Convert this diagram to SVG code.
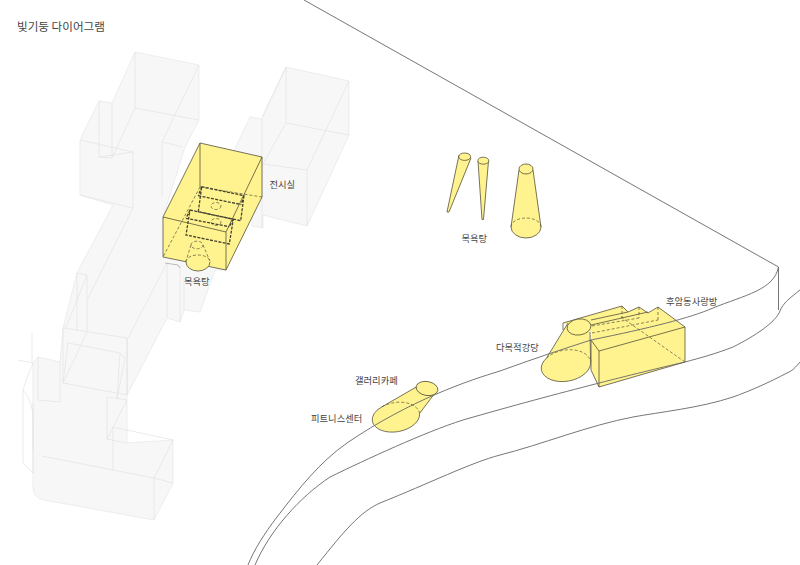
<svg xmlns="http://www.w3.org/2000/svg" width="800" height="565" viewBox="0 0 800 565">
<style>
text{font-family:"Noto Sans CJK KR","Noto Sans",sans-serif;font-size:9.3px;fill:#444}
.g{fill:#f7f7f7;stroke:#e6e6e6;stroke-width:.7;stroke-linejoin:round}
.gl{fill:none;stroke:#e2e2e2;stroke-width:.7}
.y{fill:#fff38f;stroke:none}
.s{fill:none;stroke:#55513a;stroke-width:.8;stroke-linejoin:round}
.d{fill:none;stroke:#55513a;stroke-width:.7;stroke-dasharray:3 2}
.t{fill:none;stroke:#44422f;stroke-width:1.3;stroke-dasharray:3 1.3}
.r{fill:none;stroke:#666;stroke-width:.9}
</style>
<rect width="800" height="565" fill="#fff"/>
<g id="existing-building">
<path class="g" d="M286 67L349 81V135L307 226L263 215V228L252 226V215L226 200L233 153L250 117L262 119Z"/>
<path class="gl" d="M286 67V123L349 135M286 67L262 117M349 81L307 170V226M263 164L307 170M286 123L263 164M262 119V228"/>
<path class="g" d="M135 52L199 65V120L185 147L163 217L226 270L215 270L200 312L184 310L180 322L167 318L127 395V338L63 328L77 273L113 205L80 195V140L99 101L112 103Z"/>
<path class="gl" d="M135 52V108L199 120M199 65L162 142V197M162 142L183 147M80 140L133 152V208M80 195L133 208M99 101V157L112 158V103M99 157L133 152M112 158L135 108M133 208L87 300M167 263L128 338M167 263V318M180 265V322M184 277V310M77 273L87 275V332M77 273V330M87 275L63 335"/>
<path class="g" d="M38 357L60 362L63 328L127 338V443L173 440V483L154 520L44 500Q33 498 33 487V363Z"/>
<path class="gl" d="M63 383L127 395M87 332L63 383M68 343L120 353L117 399M68 343L63 383M120 353L125 358L117 399M38 357V400L60 402V362M107 397L127 400L107 439V397M107 439L127 443M113 427L173 440L154 478V520M113 427V470L154 478L173 483M42 456L113 470M32 333V362M18 360L33 363L27 378L23 390V463L33 473V403M23 390Q33 400 33 420V450M127 338V395M63 328V383"/>
</g>
<g id="exhibition-hall">
<path class="y" d="M200 143L262 157V197L226 270L163 257V217Z"/>
<path class="s" d="M163 217L200 143L262 157V197L226 270L163 257V217L226 232L262 157M226 232V270M200 143V187"/>
<path class="d" d="M200 187L262 197M200 187L163 257"/>
<path class="t" d="M201.700 186.700L244 195.700L240.700 220.700L198.300 211.700ZM198.300 195.700L241 204.500M244 195.700L241 204.500M201.700 186.700L198.300 195.700M190 210L233.300 219.300L229.300 244L186 235ZM186 218.300L229.300 226.700M190 210L186 218.300M233.300 219.300L229.300 226.700"/>
<ellipse class="d" cx="216" cy="206" rx="5" ry="3.500"/>
<ellipse class="d" cx="216" cy="222" rx="5" ry="3.500"/>
</g>
<g id="bath-cone-1">
<ellipse class="y" cx="198" cy="262" rx="12" ry="9"/>
<path class="d" d="M191 245L186 261M203 245L210 261M186 262A12 7 0 0 1 210 262"/>
<ellipse class="d" cx="197" cy="245" rx="6" ry="3.800"/>
<path class="s" d="M186 262A12 9 0 0 0 210 262"/>
</g>
<path d="M165 263L178 265L180 268" fill="none" stroke="#aaa" stroke-width=".8"/>
<g id="bath-cones">
<path class="y" d="M459 155L447 212L449 212L471 158Z"/>
<path class="s" d="M459 155L447 212L449 212L471 158"/>
<ellipse class="y" cx="464.700" cy="156.700" rx="6" ry="3.700"/><ellipse class="s" cx="464.700" cy="156.700" rx="6" ry="3.700"/>
<path class="y" d="M478 161L482 219.500L483.500 219.500L488.500 161Z"/>
<path class="s" d="M478 161L482 219.500L483.500 219.500L488.500 161"/>
<ellipse class="y" cx="483.300" cy="160.700" rx="5.500" ry="3.500"/><ellipse class="s" cx="483.300" cy="160.700" rx="5.500" ry="3.500"/>
<path class="y" d="M519 170L511 227A15 11 0 0 0 541 227L533 170Z"/>
<path class="s" d="M519 170L511 227A15 11 0 0 0 541 227L533 170"/>
<path class="d" d="M511 227A15 9 0 0 1 541 227"/>
<ellipse class="y" cx="526" cy="169" rx="7" ry="5"/><ellipse class="s" cx="526" cy="169" rx="7" ry="5"/>
</g>
<g id="community-room">
<path class="y" d="M563 323L622 306L628 312L639 307L648 313L658 307L685 327V362L599 387L591 370V340L592 332Z"/>
<path class="s" d="M563 323V330M563 323L622 306L628 312L639 307L648 313L658 307L685 327V362L599 387V351L685 327M591 340L599 351M591 340V370L599 387M591 320L628 312M591 325L648 312"/>
<path class="d" d="M622 306V318M639 307V318M658 307V320M592 333L658 320M621 317L685 362M592 326L639 318"/>
</g>
<g id="auditorium">
<path class="y" d="M568 323L546.600 358A25 16 -10 0 0 541.400 370.300A25 16 -10 0 0 590.600 361.700L590 332Z"/>
<path class="s" d="M568 323L546.600 358A25 16 -10 0 0 541.400 370.300A25 16 -10 0 0 590.600 361.700L590 332"/>
<path class="d" d="M546.600 358A25 16 -10 0 1 590.600 361.700"/>
<ellipse class="y" cx="579" cy="327" rx="12" ry="8" transform="rotate(-8 579 327)"/>
<ellipse class="s" cx="579" cy="327" rx="12" ry="8" transform="rotate(-8 579 327)"/>
</g>
<g id="gallery-cafe">
<path class="y" d="M418 386L382 406.800A24 15 -10 0 0 372.400 421.700A24 15 -10 0 0 419.600 413.300L435 393Z"/>
<path class="s" d="M418 386L382 406.800A24 15 -10 0 0 372.400 421.700A24 15 -10 0 0 419.600 413.300L435 393"/>
<path class="d" d="M382 406.800A24 15 -10 0 1 419.600 413.300"/>
<ellipse class="y" cx="427" cy="388.500" rx="11" ry="7" transform="rotate(10 427 388.500)"/>
<ellipse class="s" cx="427" cy="388.500" rx="11" ry="7" transform="rotate(10 427 388.500)"/>
</g>
<g id="connectors">
<path class="r" d="M304 0L778.500 267V310"/>
<path class="r" d="M778.500 267C774 290 745 295 713 308C690 318 650 328 591 340C560 350 530 360 500 371C470 380 410 400 347 443C320 462 300 487 277 517C264 534 254 550 248 565"/>
<path class="r" d="M800 290C790 298 783 303 780 311C776 322 755 336 733 347C715 354 700 358 685 362C650 370 560 392 463 420C425 432 365 460 330 477C300 497 270 530 255 565"/>
<path class="r" d="M800 362C795 368 792 371 787 373C770 382 750 391 733 397C700 408 660 412 633 417C590 425 540 445 500 455C470 463 430 483 380 503C360 512 345 530 317 565"/>
</g>
<g id="labels">
<text x="17" y="31" style="font-size:11.600px">빛기둥 다이어그램</text>
<text x="269.500" y="188">전시실</text>
<text x="184" y="284.500">목욕탕</text>
<text x="461.500" y="242">목욕탕</text>
<text x="666" y="305">후암동사랑방</text>
<text x="496" y="351">다목적강당</text>
<text x="355" y="383.500">갤러리카페</text>
<text x="311" y="422">피트니스센터</text>
</g>
</svg>
